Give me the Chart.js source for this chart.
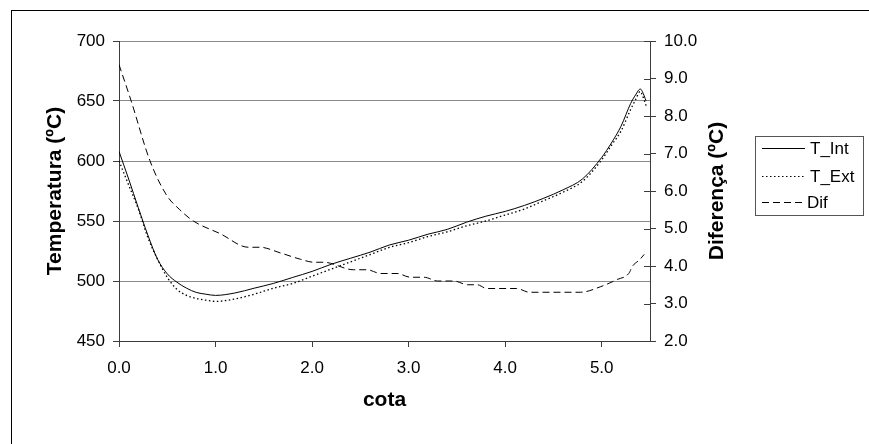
<!DOCTYPE html>
<html>
<head>
<meta charset="utf-8">
<script src="https://cdn.jsdelivr.net/npm/chart.js@4"></script>
<style>
    body { margin: 0; background: #fff; }
    #chart1 { display: block; }
</style>
</head>
<body>
<canvas id="chart1" width="869" height="444"></canvas>
<script>
/* ---------------------------------------------------------------------------------------- */
/* DATA                                                                                     */
/* ---------------------------------------------------------------------------------------- */

    var cota    = [0, 0.1, 0.2, 0.3, 0.4, 0.5, 0.6, 0.7, 0.8, 0.9, 1.0, 1.2, 1.4, 1.6, 1.8, 2.0, 2.2, 2.4, 2.6, 2.8,
                   3.0, 3.2, 3.4, 3.6, 3.8, 4.0, 4.2, 4.4, 4.6, 4.8, 5.0, 5.1, 5.2, 5.3, 5.35, 5.4, 5.42, 5.46];
    var tInt    = [608, 585, 561, 538, 518, 506, 499, 494, 490.5, 489, 488, 490, 494, 498, 503, 508, 514, 519, 524, 530,
                   534, 539, 543, 549, 554, 558, 563, 569, 576, 585, 603, 615, 629, 648, 655, 660, 658, 650];
    var tExt    = [600, 580, 560, 536, 518, 503, 493, 488, 485.5, 484, 483, 485, 489, 494, 498, 504, 510, 516, 522, 528,
                   532, 537, 541, 546, 550, 555, 560, 567, 574, 583, 601, 613, 625, 643, 651, 658, 655, 646];

    var difCota = [0, 0.125, 0.32, 0.49, 0.63, 0.77, 1.05, 1.34, 1.46, 1.67, 1.88, 2.02, 2.12, 2.43, 2.57, 2.71, 2.88,
                   3.02, 3.16, 3.3, 3.47, 3.61, 3.71, 3.81, 4.12, 4.25, 4.78, 4.99, 5.16, 5.28, 5.32, 5.39, 5.44];
    var dif     = [9.37, 8.41, 6.81, 5.9, 5.5, 5.2, 4.86, 4.5, 4.5, 4.35, 4.18, 4.1, 4.1, 3.9, 3.9, 3.8, 3.8,
                   3.7, 3.7, 3.6, 3.6, 3.5, 3.5, 3.4, 3.4, 3.3, 3.3, 3.45, 3.64, 3.8, 4.0, 4.16, 4.31];

    var labels  = ['T_Int', 'T_Ext', 'Dif'];
    var FONT    = "'Liberation Sans', Arial, sans-serif";
    var AXIS    = '#3c3c3c';

    function pts(xs, ys){
        var out = [];
        for(let i = 0; i < xs.length; i++){
            out.push({ x: xs[i], y: ys[i] });
        }
        return out;
    }

/* ---------------------------------------------------------------------------------------- */
/* PLUGINS - FRAME, RIGHT TITLE, LEGEND                                                     */
/* ---------------------------------------------------------------------------------------- */

    var framePlugin = {
        id: 'frame',
        afterDraw: function(chart){
            var ctx = chart.ctx;
            ctx.save();
            ctx.strokeStyle = '#000';
            ctx.lineWidth = 1;
            ctx.strokeRect(11.5, 10.5, 870, 440);

            // inner half of the right axis ticks
            var y2 = chart.scales.y2;
            ctx.strokeStyle = AXIS;
            ctx.beginPath();
            y2.ticks.forEach(function(t){
                var py = Math.round(y2.getPixelForValue(t.value)) + 0.5;
                ctx.moveTo(y2.left - 6, py);
                ctx.lineTo(y2.left, py);
            });
            ctx.stroke();

            // right title reads bottom-to-top
            ctx.translate(717, (chart.chartArea.top + chart.chartArea.bottom) / 2);
            ctx.rotate(-Math.PI / 2);
            ctx.font = 'bold 21px ' + FONT;
            ctx.fillStyle = '#000';
            ctx.textAlign = 'center';
            ctx.textBaseline = 'middle';
            ctx.fillText('Diferença (ºC)', 0, 0);
            ctx.restore();

            // legend
            ctx.save();
            ctx.strokeStyle = '#555';
            ctx.lineWidth = 1;
            ctx.strokeRect(755.5, 136.5, 108, 79);
            ctx.font = '17px ' + FONT;
            ctx.fillStyle = '#000';
            ctx.textBaseline = 'middle';
            var rows = [148, 176, 202];
            chart.data.datasets.forEach(function(ds, i){
                ctx.beginPath();
                ctx.strokeStyle = '#000';
                ctx.setLineDash(ds.borderDash || []);
                ctx.moveTo(762, rows[i] + 0.5);
                ctx.lineTo(805, rows[i] + 0.5);
                ctx.stroke();
                ctx.setLineDash([]);
                ctx.fillText(ds.label, i == 2 ? 807 : 810, rows[i] + 1);
            });
            ctx.restore();
        }
    };

/* ---------------------------------------------------------------------------------------- */
/* CHART                                                                                    */
/* ---------------------------------------------------------------------------------------- */

    var ctx = document.getElementById('chart1').getContext('2d');
    var chart1 = new Chart(ctx, {
        type: 'line',
        data: {
            datasets: [{
                label: labels[0],
                data: pts(cota, tInt),
                borderColor: '#000',
                borderWidth: 1,
                yAxisID: 'y'
            },{
                label: labels[1],
                data: pts(cota, tExt),
                borderColor: '#000',
                borderWidth: 1.3,
                borderDash: [1.5, 2.5],
                yAxisID: 'y'
            },{
                label: labels[2],
                data: pts(difCota, dif),
                borderColor: '#000',
                borderWidth: 1,
                borderDash: [7, 4],
                yAxisID: 'y2'
            }]
        },
        options: {
            responsive: false,
            animation: false,
            layout: { padding: { top: 41, left: 43, right: 129, bottom: 31 } },
            elements: {
                point: { radius: 0 },
                line: { cubicInterpolationMode: 'monotone' }
            },
            plugins: {
                legend: { display: false },
                tooltip: { enabled: false }
            },
            scales: {
                x: {
                    type: 'linear',
                    min: 0,
                    max: 5.5,
                    afterFit: function(s){ s.height = 72; },
                    ticks: {
                        stepSize: 1,
                        includeBounds: false,
                        padding: 11,
                        color: '#000',
                        font: { family: FONT, size: 17 },
                        callback: function(v){ return v.toFixed(1); }
                    },
                    grid: { drawOnChartArea: false, tickLength: 6, tickColor: AXIS },
                    border: { color: AXIS },
                    title: {
                        display: true,
                        text: 'cota',
                        color: '#000',
                        padding: 0,
                        font: { family: FONT, size: 21, weight: 'bold' }
                    }
                },
                y: {
                    position: 'left',
                    min: 450,
                    max: 700,
                    afterFit: function(s){ s.width = 76; },
                    ticks: {
                        stepSize: 50,
                        padding: 8,
                        color: '#000',
                        font: { family: FONT, size: 17 }
                    },
                    grid: { color: '#8a8a8a', tickLength: 6, tickColor: AXIS },
                    border: { color: AXIS },
                    title: {
                        display: true,
                        text: 'Temperatura (ºC)',
                        color: '#000',
                        padding: 0,
                        font: { family: FONT, size: 21, weight: 'bold' }
                    }
                },
                y2: {
                    position: 'right',
                    min: 2,
                    max: 10,
                    afterFit: function(s){ s.width = 90; },
                    ticks: {
                        stepSize: 1,
                        padding: 8,
                        color: '#000',
                        font: { family: FONT, size: 17 },
                        callback: function(v){ return v.toFixed(1); }
                    },
                    grid: { drawOnChartArea: false, tickLength: 6, tickColor: AXIS },
                    border: { color: AXIS }
                }
            }
        },
        plugins: [framePlugin]
    });
</script>
</body>
</html>
